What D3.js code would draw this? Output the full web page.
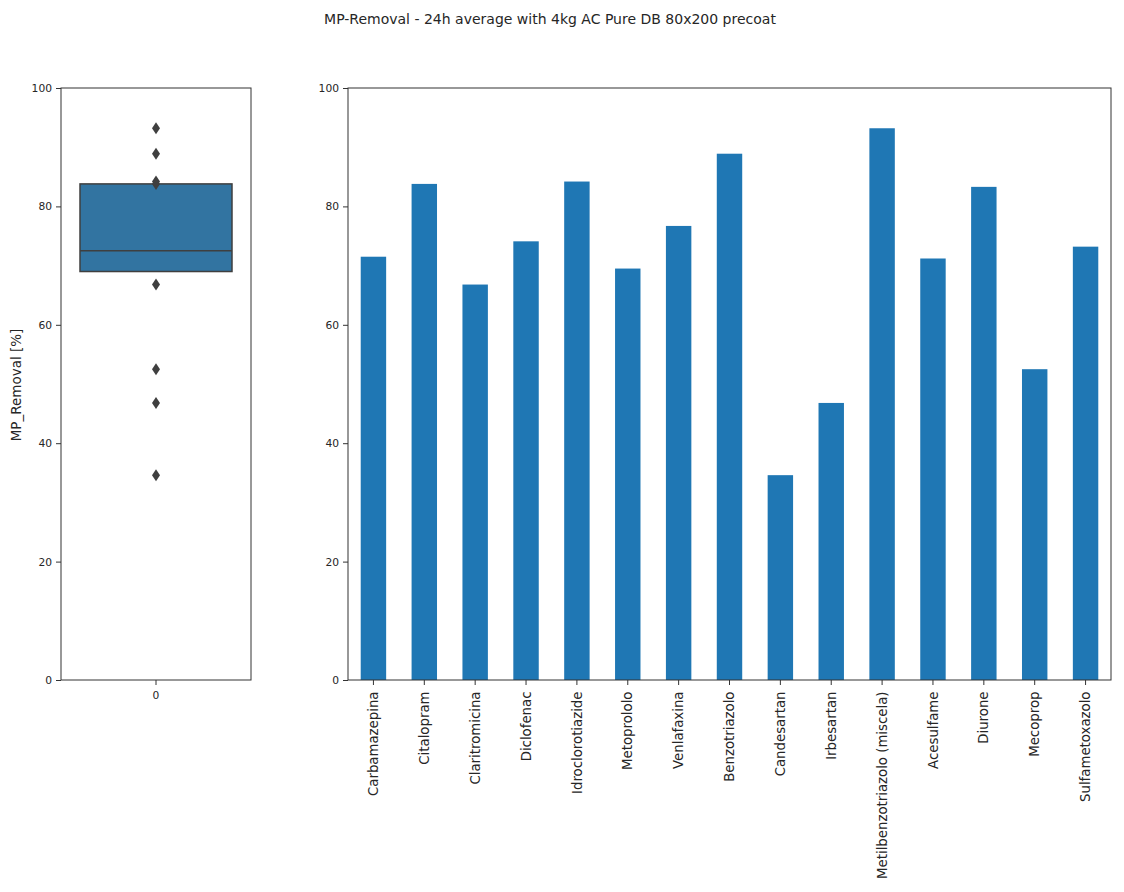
<!DOCTYPE html>
<html><head><meta charset="utf-8">
<script src="https://cdn.jsdelivr.net/npm/d3@7"></script>
<style>body{margin:0;background:#fff}svg{display:block}text{font-family:"DejaVu Sans",sans-serif;fill:#262626}</style>
</head><body><svg id="c" width="1124" height="892"></svg>
<script>
const categories = ["Carbamazepina","Citalopram","Claritromicina","Diclofenac","Idroclorotiazide","Metoprololo","Venlafaxina","Benzotriazolo","Candesartan","Irbesartan","Metilbenzotriazolo (miscela)","Acesulfame","Diurone","Mecoprop","Sulfametoxazolo"];
const removal = [71.5,83.8,66.8,74.1,84.2,69.5,76.7,88.9,34.6,46.8,93.2,71.2,83.3,52.5,73.2];
const boxStats = {q1:69.0, median:72.5, q3:83.8};
const fliers = [93.2,88.9,84.2,83.8,66.8,52.5,46.8,34.6];
const yTicks = [0,20,40,60,80,100];
const boxCategory = ["0"];

const svg = d3.select("#c");
const plotTop = 88, plotBottom = 680;
const y = d3.scaleLinear().domain([0,100]).range([plotBottom, plotTop]);
const axisColor = "#333";

svg.append("text").attr("x", 550).attr("y", 23.5).attr("text-anchor","middle").attr("font-size", 14).text("MP-Removal - 24h average with 4kg AC Pure DB 80x200 precoat");

function styleAxis(g){
  g.selectAll("path").remove();
  g.selectAll("line").attr("stroke", axisColor).attr("stroke-width",1);
  g.selectAll("text").attr("font-size",10.7).attr("fill","#262626");
}

// ---- Left box panel
const bl = 61, br = 251;
const xb = d3.scaleBand().domain(boxCategory).range([bl, br]).paddingInner(0).paddingOuter(0);
const bx = xb("0") + xb.bandwidth()/2;
const bw = xb.bandwidth()*0.8;
const gL = svg.append("g");
gL.append("rect").attr("x", bx - bw/2).attr("y", y(boxStats.q3)).attr("width", bw).attr("height", y(boxStats.q1)-y(boxStats.q3))
  .attr("fill","#3274a1").attr("stroke","#3f3f3f").attr("stroke-width",1.5);
gL.append("line").attr("x1", bx-bw/2).attr("x2", bx+bw/2).attr("y1", y(boxStats.median)).attr("y2", y(boxStats.median)).attr("stroke","#3f3f3f").attr("stroke-width",1.5);
gL.selectAll("path.fl").data(fliers).enter().append("path")
  .attr("d", d => `M${bx},${y(d)-6} L${bx+4},${y(d)} L${bx},${y(d)+6} L${bx-4},${y(d)} Z`)
  .attr("fill","#3f3f3f");
gL.append("g").attr("transform",`translate(${bl},0)`).call(d3.axisLeft(y).tickValues(yTicks).tickSize(5).tickPadding(4)).call(styleAxis);
gL.append("g").attr("transform",`translate(0,${plotBottom})`).call(d3.axisBottom(xb).tickSize(5).tickPadding(6)).call(styleAxis);
gL.append("rect").attr("x", bl).attr("y", plotTop).attr("width", br-bl).attr("height", plotBottom-plotTop).attr("fill","none").attr("stroke",axisColor).attr("stroke-width",1);
gL.append("text").attr("transform",`translate(20.5,385) rotate(-90)`).attr("text-anchor","middle").attr("font-size",13.5).text("MP_Removal [%]");

// ---- Right bar panel
const rl = 348, rr = 1111;
const xr = d3.scaleBand().domain(categories).range([rl, rr]).paddingInner(0.5).paddingOuter(0.25);
const gR = svg.append("g");
gR.selectAll("rect.bar").data(categories).enter().append("rect")
  .attr("x", d => xr(d)).attr("width", xr.bandwidth())
  .attr("y", (d,i) => y(removal[i])).attr("height", (d,i) => y(0)-y(removal[i]))
  .attr("fill","#1f77b4");
gR.append("g").attr("transform",`translate(${rl},0)`).call(d3.axisLeft(y).tickValues(yTicks).tickSize(5).tickPadding(4)).call(styleAxis);
const xa = gR.append("g").attr("transform",`translate(0,${plotBottom})`).call(d3.axisBottom(xr).tickSize(5).tickPadding(4)).call(styleAxis);
xa.selectAll("text").attr("transform","rotate(-90)").attr("text-anchor","end").attr("dy","0.35em").attr("x",-11.5).attr("y",0).attr("font-size",13.3);
gR.append("rect").attr("x", rl).attr("y", plotTop).attr("width", rr-rl).attr("height", plotBottom-plotTop).attr("fill","none").attr("stroke",axisColor).attr("stroke-width",1);
</script></body></html>
